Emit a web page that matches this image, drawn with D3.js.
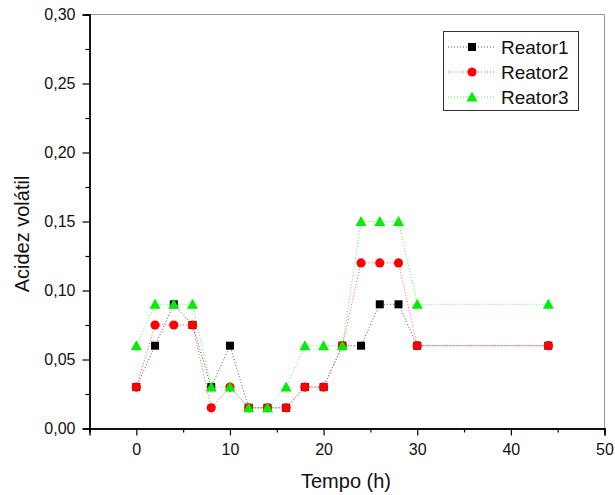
<!DOCTYPE html>
<html>
<head>
<meta charset="utf-8">
<script src="https://cdn.jsdelivr.net/npm/d3@7"></script>
<style>
  body { margin: 0; background: #fff; }
  svg { display: block; font-family: "Liberation Sans", Arial, sans-serif; }
</style>
</head>
<body>
<svg id="chart" width="615" height="495"></svg>
<script>
// Volatile acidity over time for three reactors
const tempo   = [0, 2, 4, 6, 8, 10, 12, 14, 16, 18, 20, 22, 24, 26, 28, 30, 44];
const reator1 = [0.03, 0.06, 0.09, 0.075, 0.03, 0.06, 0.015, 0.015, 0.015, 0.03, 0.03, 0.06, 0.06, 0.09, 0.09, 0.06, 0.06];
const reator2 = [0.03, 0.075, 0.075, 0.075, 0.015, 0.03, 0.015, 0.015, 0.015, 0.03, 0.03, 0.06, 0.12, 0.12, 0.12, 0.06, 0.06];
const reator3 = [0.06, 0.09, 0.09, 0.09, 0.03, 0.03, 0.015, 0.015, 0.03, 0.06, 0.06, 0.06, 0.15, 0.15, 0.15, 0.09, 0.09];
const seriesNames = ["Reator1", "Reator2", "Reator3"];
const xTicks = [0, 10, 20, 30, 40, 50];
const yTicks = [0, 0.05, 0.10, 0.15, 0.20, 0.25, 0.30];

const series = [
  { name: seriesNames[0], values: reator1, color: "#000000", line: "#555555", shape: "square" },
  { name: seriesNames[1], values: reator2, color: "#ff0000", line: "#ff5555", shape: "circle" },
  { name: seriesNames[2], values: reator3, color: "#00ee00", line: "#55ee55", shape: "triangle" }
];

const svg = d3.select("#chart");
const m = { left: 89.5, right: 604.5, top: 14.5, bottom: 428.5 };

const x = d3.scaleLinear().domain([-5, 50]).range([m.left, m.right]);
const y = d3.scaleLinear().domain([0, 0.30]).range([m.bottom, m.top]);
const fmt = d => d.toFixed(2).replace(".", ",");

// frame: top and right in light grey
svg.append("path")
  .attr("d", `M${m.left},${m.top}H${m.right}V${m.bottom}`)
  .attr("fill", "none").attr("stroke", "#999").attr("stroke-width", 1);

// bottom axis with major and minor ticks
const xAxisG = svg.append("g").attr("transform", `translate(0,${m.bottom})`);
xAxisG.call(d3.axisBottom(x).tickValues(xTicks).tickSize(7).tickPadding(8).tickFormat(d3.format("d")));
xAxisG.append("g").call(d3.axisBottom(x).tickValues(d3.range(-5, 50, 10)).tickSize(4).tickFormat(""));
xAxisG.selectAll(".domain").attr("stroke", "#000").attr("stroke-width", 1.4);
xAxisG.selectAll("text").attr("font-size", 16).attr("fill", "#111");

// left axis with major and minor ticks
const yAxisG = svg.append("g").attr("transform", `translate(${m.left},0)`);
yAxisG.call(d3.axisLeft(y).tickValues(yTicks).tickSize(7).tickPadding(7).tickFormat(fmt));
yAxisG.append("g").call(d3.axisLeft(y).tickValues(d3.range(0.025, 0.3, 0.05)).tickSize(4).tickFormat(""));
yAxisG.selectAll(".domain").attr("stroke", "#000").attr("stroke-width", 1.4);
yAxisG.selectAll("text").attr("font-size", 16).attr("fill", "#111");
svg.selectAll(".tick line").attr("stroke", "#000").attr("stroke-width", 1.2);

// axis titles
svg.append("text").attr("x", 346).attr("y", 488).attr("text-anchor", "middle")
  .attr("font-size", 20).attr("fill", "#111").text("Tempo (h)");
svg.append("text").attr("transform", "translate(29,234) rotate(-90)").attr("text-anchor", "middle")
  .attr("font-size", 20).attr("fill", "#111").text("Acidez volátil");

function drawMarker(g, shape, cx, cy, color) {
  if (shape === "square") {
    g.append("rect").attr("x", cx - 4).attr("y", cy - 4).attr("width", 8).attr("height", 8).attr("fill", color);
  } else if (shape === "circle") {
    g.append("circle").attr("cx", cx).attr("cy", cy).attr("r", 4.6).attr("fill", color);
  } else {
    g.append("path").attr("d", `M${cx},${cy - 5.5}L${cx + 5.5},${cy + 4.5}L${cx - 5.5},${cy + 4.5}Z`).attr("fill", color);
  }
}

const line = d3.line().x(d => x(d[0])).y(d => y(d[1]));
const plot = svg.append("g");

series.forEach(s => {
  const pts = tempo.map((t, i) => [t, s.values[i]]);
  plot.append("path").datum(pts).attr("d", line)
    .attr("fill", "none").attr("stroke", s.line).attr("stroke-width", 1)
    .attr("stroke-dasharray", "1,2");
});
series.forEach(s => {
  const g = plot.append("g");
  tempo.forEach((t, i) => drawMarker(g, s.shape, x(t), y(s.values[i]), s.color));
});

// legend
const lg = svg.append("g");
lg.append("rect").attr("x", 443.5).attr("y", 31.5).attr("width", 135).attr("height", 79)
  .attr("fill", "#fff").attr("stroke", "#333").attr("stroke-width", 1);
series.forEach((s, i) => {
  const cy = 47 + i * 25;
  lg.append("line").attr("x1", 448).attr("x2", 494).attr("y1", cy).attr("y2", cy)
    .attr("stroke", s.line).attr("stroke-width", 1).attr("stroke-dasharray", "1,2");
  drawMarker(lg, s.shape, 472, cy, s.color);
  lg.append("text").attr("x", 501).attr("y", cy + 7).attr("font-size", 19).attr("fill", "#111").text(s.name);
});
</script>
</body>
</html>
